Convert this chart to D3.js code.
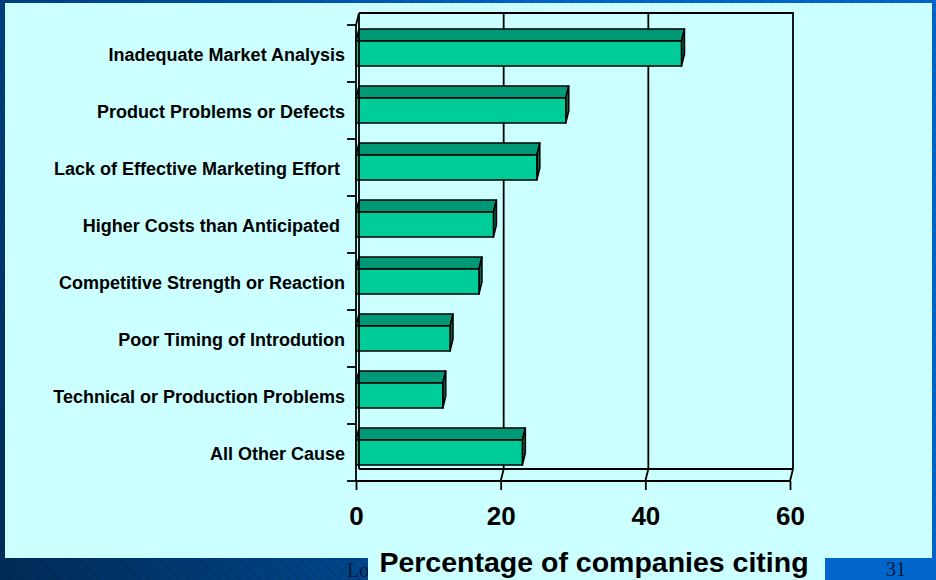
<!DOCTYPE html>
<html>
<head>
<meta charset="utf-8">
<script src="https://cdn.jsdelivr.net/npm/d3@7/dist/d3.min.js"></script>
<style>
  html, body { margin: 0; padding: 0; background: #0055aa; }
  svg { display: block; }
</style>
</head>
<body>
<script>
const categories = [
  "Inadequate Market Analysis",
  "Product Problems or Defects",
  "Lack of Effective Marketing Effort ",
  "Higher Costs than Anticipated ",
  "Competitive Strength or Reaction",
  "Poor Timing of Introdution",
  "Technical or Production Problems",
  "All Other Cause"
];
const values = [45, 29, 25, 19, 17, 13, 12, 23];
const xTicks = [0, 20, 40, 60];
const axisTitle = "Percentage of companies citing";
const footerLeft = "Lo";
const pageNumber = "31";

const W = 936, H = 580;
const svg = d3.select("body").append("svg").attr("width", W).attr("height", H);
const defs = svg.append("defs");

// background gradient
const grad = defs.append("linearGradient").attr("id", "bg")
  .attr("gradientUnits", "userSpaceOnUse")
  .attr("x1", 0).attr("y1", 600).attr("x2", 700).attr("y2", 250);
grad.append("stop").attr("offset", 0).attr("stop-color", "#002a55");
grad.append("stop").attr("offset", 0.55).attr("stop-color", "#004d99");
grad.append("stop").attr("offset", 1).attr("stop-color", "#0066cc");
const pat = defs.append("pattern").attr("id", "stripes")
  .attr("patternUnits", "userSpaceOnUse").attr("width", 10).attr("height", 10);
pat.append("path").attr("d", "M-1,-1 L11,11").attr("stroke", "#000000")
  .attr("stroke-opacity", 0.2).attr("stroke-width", 1);

svg.append("rect").attr("width", W).attr("height", H).attr("fill", "url(#bg)");
svg.append("rect").attr("width", W).attr("height", H).attr("fill", "url(#stripes)");
// right bottom box
svg.append("rect").attr("x", 825).attr("y", 558).attr("width", W - 825).attr("height", 22).attr("fill", "#0066cc");

// panel
const panelFill = "#ccffff";
svg.append("rect").attr("x", 5).attr("y", 3).attr("width", 927).attr("height", 555).attr("fill", panelFill);

// footer text
svg.append("text").attr("x", 347).attr("y", 577).text(footerLeft)
  .attr("font-family", "Liberation Serif, Times New Roman, serif").attr("font-size", 20).attr("fill", "#0a1a3a");
svg.append("rect").attr("x", 368).attr("y", 550).attr("width", 825 - 368).attr("height", 30).attr("fill", panelFill);
svg.append("text").attr("x", 896).attr("y", 576).attr("text-anchor", "middle").text(pageNumber)
  .attr("font-family", "Liberation Serif, Times New Roman, serif").attr("font-size", 20).attr("fill", "#0a1a3a");

// chart geometry
const x = d3.scaleLinear().domain([0, 60]).range([356, 790]);
const y = d3.scaleBand().domain(categories).range([25, 481]);
const dx = 3, dy = 12, barH = 25;
const y0 = y.range()[0], y1 = y.range()[1];
const lineW = 1.8;

const g = svg.append("g");

// back wall
g.append("path")
  .attr("d", `M${x(0) + dx},${y0 - dy} L${x(60) + dx},${y0 - dy} L${x(60) + dx},${y1 - dy}`)
  .attr("fill", "none").attr("stroke", "#000").attr("stroke-width", lineW);
// gridlines on back wall
g.selectAll(".grid").data(xTicks.filter(t => t > 0 && t < 60)).join("line")
  .attr("x1", d => x(d) + dx).attr("x2", d => x(d) + dx)
  .attr("y1", y0 - dy).attr("y2", y1 - dy)
  .attr("stroke", "#000").attr("stroke-width", lineW);
// floor
g.append("line").attr("x1", x(0) + dx).attr("x2", x(60) + dx).attr("y1", y1 - dy).attr("y2", y1 - dy)
  .attr("stroke", "#000").attr("stroke-width", lineW);
g.append("line").attr("x1", x(0)).attr("x2", x(60)).attr("y1", y1).attr("y2", y1)
  .attr("stroke", "#000").attr("stroke-width", lineW);
g.selectAll(".floorTick").data(xTicks.filter(t => t > 0)).join("line")
  .attr("x1", d => x(d) + dx).attr("x2", d => x(d))
  .attr("y1", y1 - dy).attr("y2", y1)
  .attr("stroke", "#000").attr("stroke-width", lineW);

// bars
const bars = g.selectAll(".bar").data(categories.map((c, i) => ({ c, v: values[i] }))).join("g");
bars.each(function (d) {
  const sel = d3.select(this);
  const top = y(d.c) + y.bandwidth() / 2 - barH / 2;
  const xl = x(0), xr = x(d.v);
  // top face
  sel.append("path")
    .attr("d", `M${xl},${top} L${xl + dx},${top - dy} L${xr + dx},${top - dy} L${xr},${top} Z`)
    .attr("fill", "#009977").attr("stroke", "#000").attr("stroke-width", 1.5).attr("stroke-linejoin", "round");
  // side face
  sel.append("path")
    .attr("d", `M${xr},${top} L${xr + dx},${top - dy} L${xr + dx},${top - dy + barH} L${xr},${top + barH} Z`)
    .attr("fill", "#006644").attr("stroke", "#000").attr("stroke-width", 1.5).attr("stroke-linejoin", "round");
  // front face
  sel.append("rect")
    .attr("x", xl).attr("y", top).attr("width", xr - xl).attr("height", barH)
    .attr("fill", "#00cc99").attr("stroke", "#000").attr("stroke-width", 1.5);
});

// left wall
g.append("path")
  .attr("d", `M${x(0)},${y1} L${x(0)},${y0} L${x(0) + dx},${y0 - dy} L${x(0) + dx},${y1 - dy}`)
  .attr("fill", "none").attr("stroke", "#000").attr("stroke-width", lineW);

// left ticks at band boundaries
const bounds = categories.map(c => y(c)).concat([y1]);
g.selectAll(".ltick").data(bounds).join("line")
  .attr("x1", x(0) - 9).attr("x2", x(0)).attr("y1", d => d).attr("y2", d => d)
  .attr("stroke", "#000").attr("stroke-width", lineW);

// category labels
g.selectAll(".lab").data(categories).join("text")
  .attr("x", 345).attr("y", d => y(d) + y.bandwidth() / 2 + 1)
  .attr("text-anchor", "end").attr("dominant-baseline", "central")
  .style("white-space", "pre")
  .attr("font-family", "Liberation Sans, Arial, sans-serif").attr("font-weight", "bold")
  .attr("font-size", 18).attr("fill", "#000")
  .text(d => d);

// x axis (ticks and labels)
const xAxis = d3.axisBottom(x).tickValues(xTicks).tickSize(9).tickPadding(17).tickFormat(d3.format("d"));
const ax = svg.append("g").attr("transform", `translate(0,${y1})`).call(xAxis);
ax.select(".domain").remove();
ax.selectAll(".tick line").attr("stroke", "#000").attr("stroke-width", lineW);
ax.selectAll(".tick text").attr("font-family", "Liberation Sans, Arial, sans-serif")
  .attr("font-weight", "bold").attr("font-size", 26).attr("fill", "#000");

// axis title
svg.append("text").attr("x", 594).attr("y", 572).attr("text-anchor", "middle")
  .attr("font-family", "Liberation Sans, Arial, sans-serif").attr("font-weight", "bold")
  .attr("font-size", 28.5).attr("fill", "#000").text(axisTitle);
</script>
</body>
</html>
